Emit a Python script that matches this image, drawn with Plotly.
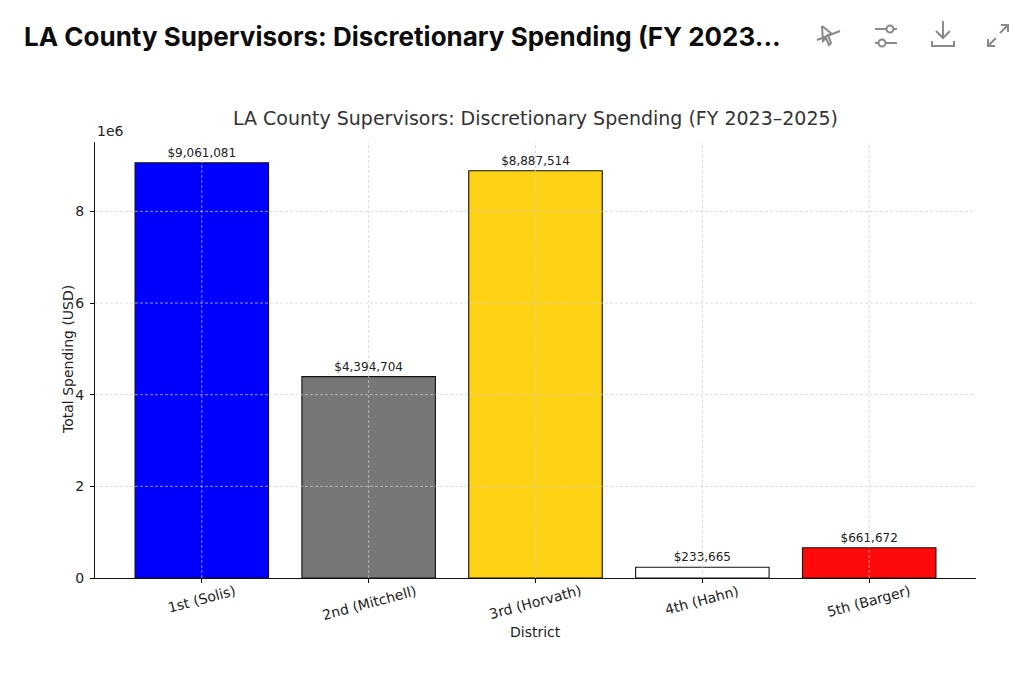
import plotly.graph_objects as go

# data
districts = ["1st (Solis)", "2nd (Mitchell)", "3rd (Horvath)", "4th (Hahn)", "5th (Barger)"]
spending = [9061081, 4394704, 8887514, 233665, 661672]
bar_colors = ["#0000ff", "#777777", "#ffd215", "#ffffff", "#ff0a0a"]
y_ticks = [0, 2e6, 4e6, 6e6, 8e6]
y_tick_text = ["0", "2", "4", "6", "8"]

title = "LA County Supervisors: Discretionary Spending (FY 2023\u20132025)"
header = "LA County Supervisors: Discretionary Spending (FY 2023..."

FONT = "DejaVu Sans"
TXT = "#222222"

# page has an 8px body margin, so the figure is a little smaller than the window
W, H = 1014, 658
L, R, T, B = 87, 46, 134, 88
PW, PH = W - L - R, H - T - B

fig = go.Figure()
fig.add_trace(go.Bar(
    x=districts,
    y=spending,
    width=0.8,
    marker=dict(color=bar_colors, line=dict(color="#111111", width=1.1)),
    text=[f"${v:,}" for v in spending],
    textposition="outside",
    textfont=dict(family=FONT, size=12, color=TXT),
    cliponaxis=False,
    hoverinfo="x+y",
))

ymax = max(spending) * 1.05

# dashed grid drawn over the bars, like matplotlib's grid
grid = dict(color="#cfcfcf", width=0.7, dash="3px,2px")
for t in y_ticks[1:]:
    fig.add_shape(type="line", xref="paper", yref="y", x0=0, x1=1, y0=t, y1=t,
                  line=grid, layer="above")
for d in districts:
    fig.add_shape(type="line", xref="x", yref="paper", x0=d, x1=d, y0=0, y1=1,
                  line=grid, layer="above")

fig.update_layout(
    width=W,
    height=H,
    margin=dict(l=L, r=R, t=T, b=B),
    paper_bgcolor="white",
    plot_bgcolor="white",
    showlegend=False,
    font=dict(family=FONT, size=13, color=TXT),
    title=dict(
        text=title,
        x=(L + PW / 2) / W,
        xanchor="center",
        y=1 - 110 / H,
        yanchor="middle",
        font=dict(family=FONT, size=19, color="#333333"),
    ),
    xaxis=dict(
        range=[-0.64, 4.64],
        showgrid=False,
        showline=True,
        linecolor="#111111",
        linewidth=1,
        ticks="outside",
        ticklen=4,
        tickcolor="#111111",
        showticklabels=False,
        zeroline=False,
    ),
    yaxis=dict(
        range=[0, ymax],
        tickvals=y_ticks,
        ticktext=y_tick_text,
        showgrid=False,
        showline=True,
        linecolor="#111111",
        linewidth=1,
        ticks="outside",
        ticklen=4,
        tickcolor="#111111",
        ticklabelstandoff=3,
        tickfont=dict(family=FONT, size=14, color=TXT),
        zeroline=False,
    ),
)

# rotated category labels, centred under each bar (matplotlib rotation=15)
for d in districts:
    fig.add_annotation(text=d, xref="x", yref="paper", x=d, y=0, xanchor="center",
                       yanchor="top", yshift=-2, textangle=-15, showarrow=False,
                       font=dict(family=FONT, size=14, color=TXT))

# axis titles
fig.add_annotation(text="District", xref="paper", yref="paper", x=0.5, y=0,
                   xanchor="center", yanchor="middle", yshift=-54, showarrow=False,
                   font=dict(family=FONT, size=14, color=TXT))
fig.add_annotation(text="Total Spending (USD)", xref="paper", yref="paper", x=0, y=0.5,
                   xanchor="center", yanchor="middle", xshift=-27, textangle=-90,
                   showarrow=False, font=dict(family=FONT, size=14, color=TXT))

# matplotlib offset text
fig.add_annotation(text="1e6", xref="paper", yref="paper", x=0, y=1, xanchor="left",
                   yanchor="bottom", yshift=1, showarrow=False,
                   font=dict(family=FONT, size=14, color=TXT))

# page header above the chart
fig.add_annotation(text=f"<b>{header}</b>", xref="paper", yref="paper",
                   x=(14 - L) / PW, y=1 + (T - 29) / PH, xanchor="left",
                   yanchor="middle", showarrow=False,
                   font=dict(family="Inter", size=26, color="#0d0d0d"))


# toolbar icons, drawn as small pixel-sized paths (screen px, y down)
ICON = "#8a8a8a"


def px_anchor(cx, cy):
    return (cx - 8 - L) / PW, 1 + (T - (cy - 8)) / PH


def icon_lines(cx, cy, lines, width=2):
    ax, ay = px_anchor(cx, cy)
    path = ""
    for line in lines:
        path += "M" + " L".join(f"{x},{-y}" for x, y in line) + " "
    fig.add_shape(type="path", path=path.strip(), xref="paper", yref="paper",
                  xsizemode="pixel", ysizemode="pixel", xanchor=ax, yanchor=ay,
                  line=dict(color=ICON, width=width), layer="above")


def icon_circle(cx, cy, dx, dy, r):
    ax, ay = px_anchor(cx, cy)
    fig.add_shape(type="circle", xref="paper", yref="paper",
                  xsizemode="pixel", ysizemode="pixel", xanchor=ax, yanchor=ay,
                  x0=dx - r, x1=dx + r, y0=-dy - r, y1=-dy + r,
                  line=dict(color=ICON, width=2), fillcolor="white", layer="above")


# pointer with a slash
icon_lines(829, 36, [
    [(-7, -10), (3, -2), (-1, -1), (2, 7), (0, 9), (-3, 2), (-6, 5), (-7, -10)],
    [(-12, 4), (11, -5)],
])
# sliders
icon_lines(886, 36, [[(-11, -7), (11, -7)], [(-11, 7), (11, 7)]])
icon_circle(886, 36, 4, -7, 3.5)
icon_circle(886, 36, -4, 7, 3.5)
# download
icon_lines(943, 36, [
    [(0, -15), (0, 2)],
    [(-7, -5), (0, 2), (7, -5)],
    [(-11, 5), (-11, 10), (11, 10), (11, 5)],
])
# expand
icon_lines(998, 36, [
    [(2, -3), (10, -11)],
    [(3, -11), (10, -11), (10, -4)],
    [(-2, 2), (-10, 10)],
    [(-10, 3), (-10, 10), (-3, 10)],
])

fig.write_html("out.html")
